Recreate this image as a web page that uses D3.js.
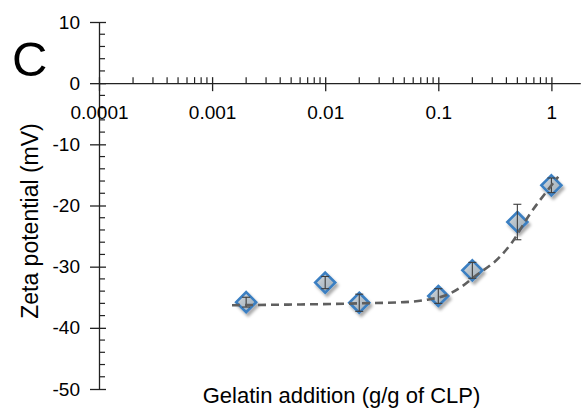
<!DOCTYPE html>
<html>
<head>
<meta charset="utf-8">
<script src="https://cdn.jsdelivr.net/npm/d3@7"></script>
<style>
  body { margin: 0; background: #fff; }
  text { font-family: "Liberation Sans", Arial, sans-serif; fill: #000; }
</style>
</head>
<body>
<div id="chart"></div>
<script>
// gelatin addition (g/g of CLP) and zeta potential (mV)
const gelatin = [0.002, 0.01, 0.02, 0.1, 0.2, 0.5, 1];
const zeta = [-35.8, -32.6, -35.9, -34.8, -30.6, -22.7, -16.7];
const zetaErr = [0.8, 1.0, 1.4, 1.2, 1.3, 2.9, 1.2];

// dashed trend line
const trendX = [0.0015, 0.02, 0.05, 0.08, 0.12, 0.16, 0.21, 0.35, 0.45, 0.64, 0.9, 1.15];
const trendY = [-36.3, -36.0, -35.8, -35.4, -34.6, -33.3, -31.6, -28.4, -26.0, -21.5, -17.8, -15.3];

const xTicks = [0.0001, 0.001, 0.01, 0.1, 1];
const xTickLabels = ["0.0001", "0.001", "0.01", "0.1", "1"];
const yTicks = [10, 0, -10, -20, -30, -40, -50];

const width = 583, height = 415;
const left = 99;
const decade = 113.1;

const svg = d3.select("#chart").append("svg")
    .attr("width", width)
    .attr("height", height)

const x = d3.scaleLog()
    .domain([0.0001, 1.8])
    .range([left, left + decade * Math.log10(1.8 / 0.0001)])

const y = d3.scaleLinear()
    .domain([-50, 10])
    .range([389, 22])

const defs = svg.append("defs")
const grad = defs.append("linearGradient")
    .attr("id", "mfill")
    .attr("x1", 0).attr("y1", 0).attr("x2", 1).attr("y2", 1)
grad.append("stop").attr("offset", "0%").attr("stop-color", "#cfd7de")
grad.append("stop").attr("offset", "100%").attr("stop-color", "#95a4b0")

const shadow = defs.append("filter")
    .attr("id", "shadow")
    .attr("x", "-50%").attr("y", "-50%").attr("width", "200%").attr("height", "200%")
shadow.append("feDropShadow")
    .attr("dx", 2).attr("dy", 3)
    .attr("stdDeviation", 1.6)
    .attr("flood-color", "#000")
    .attr("flood-opacity", 0.35)

// y axis (major ticks cross, minor ticks inside)
const yAxis = d3.axisLeft(y)
    .tickValues(yTicks)
    .tickSize(0)
    .tickPadding(19)
    .tickFormat(d => String(d))

const gy = svg.append("g")
    .attr("transform", `translate(${left},0)`)
    .call(yAxis)
gy.select(".domain").attr("stroke", "#222").attr("stroke-width", 1.3)
gy.selectAll("text")
    .style("font-size", "19px")

gy.selectAll(".tick").append("line")
    .attr("x1", -9).attr("x2", 7)
    .attr("stroke", "#222").attr("stroke-width", 1.3)

const yMinor = d3.range(-50, 10, 2).filter(v => v % 10 !== 0)
gy.selectAll(".minor").data(yMinor).join("line")
    .attr("class", "minor")
    .attr("x1", 0).attr("x2", 6)
    .attr("y1", d => y(d)).attr("y2", d => y(d))
    .attr("stroke", "#222").attr("stroke-width", 1.2)

// x axis at zero
const xAxis = d3.axisBottom(x)
    .tickValues(xTicks)
    .tickSize(0)
    .tickPadding(0)
    .tickFormat((d, i) => xTickLabels[i])

const gx = svg.append("g")
    .attr("transform", `translate(0,${y(0)})`)
    .call(xAxis)
gx.select(".domain").attr("stroke", "#222").attr("stroke-width", 1.3)
gx.selectAll("text")
    .style("font-size", "19px")
    .attr("y", 36)
    .attr("dy", 0)
gx.selectAll(".tick").append("line")
    .attr("y1", -6).attr("y2", 8)
    .attr("stroke", "#222").attr("stroke-width", 1.3)

const xMinor = []
for (let p = -4; p <= 0; p++) {
    for (let m = 2; m <= 9; m++) {
        const v = m * Math.pow(10, p)
        if (v <= 1.8) xMinor.push(v)
    }
}
gx.selectAll(".minor").data(xMinor).join("line")
    .attr("class", "minor")
    .attr("x1", d => x(d)).attr("x2", d => x(d))
    .attr("y1", -6).attr("y2", 0)
    .attr("stroke", "#222").attr("stroke-width", 1.2)

// markers (diamonds)
const r = 10
const diamond = `M0,${-r}L${r},0L0,${r}L${-r},0Z`
svg.append("g")
    .selectAll("path")
    .data(gelatin)
    .join("path")
    .attr("d", diamond)
    .attr("transform", (d, i) => `translate(${x(d)},${y(zeta[i])})`)
    .attr("fill", "url(#mfill)")
    .attr("fill-opacity", 0.85)
    .attr("stroke", "#3a7fc2")
    .attr("stroke-width", 2.6)
    .attr("filter", "url(#shadow)")

// error bars
const eb = svg.append("g")
    .attr("stroke", "#3c3c3c")
    .attr("stroke-width", 1.1)
gelatin.forEach((d, i) => {
    const cx = x(d), y1 = y(zeta[i] + zetaErr[i]), y2 = y(zeta[i] - zetaErr[i])
    eb.append("line").attr("x1", cx).attr("x2", cx).attr("y1", y1).attr("y2", y2)
    eb.append("line").attr("x1", cx - 4).attr("x2", cx + 4).attr("y1", y1).attr("y2", y1)
    eb.append("line").attr("x1", cx - 4).attr("x2", cx + 4).attr("y1", y2).attr("y2", y2)
})

// dashed trend line
const line = d3.line()
    .x(d => x(d[0]))
    .y(d => y(d[1]))
    .curve(d3.curveMonotoneX)

svg.append("path")
    .datum(trendX.map((d, i) => [d, trendY[i]]))
    .attr("d", line)
    .attr("fill", "none")
    .attr("stroke", "#5f5f5f")
    .attr("stroke-width", 2.6)
    .attr("stroke-dasharray", "8,5")

// panel letter and titles
svg.append("text")
    .attr("x", 12)
    .attr("y", 76)
    .style("font-size", "49px")
    .text("C")

svg.append("text")
    .attr("x", 341.5)
    .attr("y", 403)
    .attr("text-anchor", "middle")
    .style("font-size", "22px")
    .text("Gelatin addition (g/g of CLP)")

svg.append("text")
    .attr("transform", "translate(37.5,221) rotate(-90)")
    .attr("text-anchor", "middle")
    .style("font-size", "23px")
    .text("Zeta potential (mV)")
</script>
</body>
</html>
